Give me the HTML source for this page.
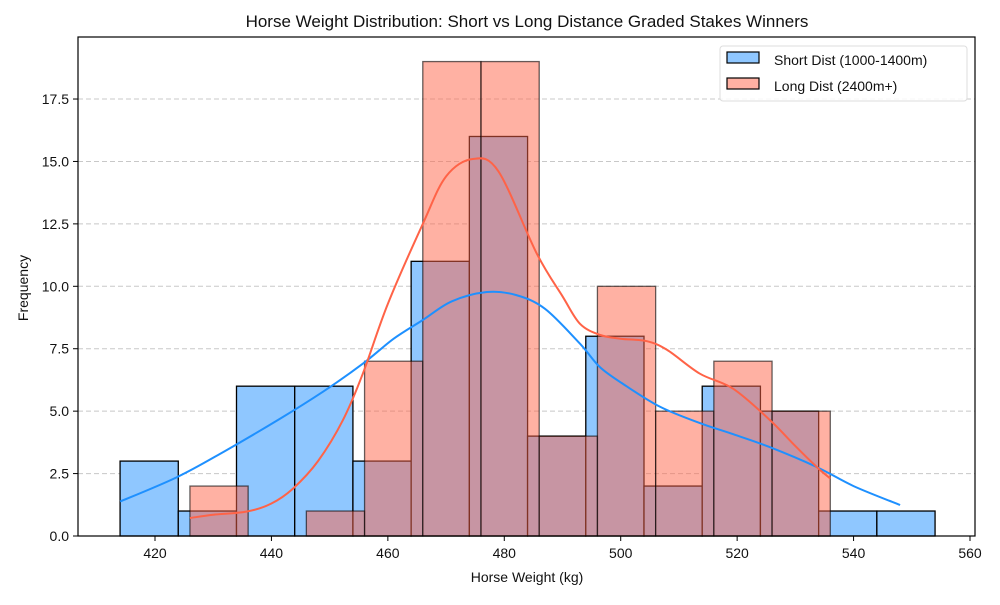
<!DOCTYPE html>
<html><head><meta charset="utf-8"><style>
html,body{margin:0;padding:0;background:#fff;}
svg text{font-family:"Liberation Sans",sans-serif;fill:#111;}
</style></head><body>
<svg id="s" width="1000" height="600" xmlns="http://www.w3.org/2000/svg"></svg>
<script>
const X=v=>155+(v-420)*5.8214, Y=v=>536-24.97*v;
let h='';
[2.5,5,7.5,10,12.5,15,17.5].forEach(v=>{h+=`<line x1="78" x2="975" y1="${Y(v)}" y2="${Y(v)}" stroke="#c8c8c8" stroke-dasharray="5,3" stroke-width="1"/>`;});
const blue=[3,1,6,6,3,11,16,4,8,2,6,5,1,1];
blue.forEach((c,i)=>{const a=414+i*10;h+=`<rect x="${X(a)}" y="${Y(c)}" width="${X(a+10)-X(a)}" height="${536-Y(c)}" fill="#8fc7ff" stroke="#000" stroke-width="1.3"/>`;});
const red=[2,0,1,7,19,19,4,10,5,7,5];
red.forEach((c,i)=>{if(!c)return;const a=426+i*10;h+=`<rect x="${X(a)}" y="${Y(c)}" width="${X(a+10)-X(a)}" height="${536-Y(c)}" fill="rgba(255,99,71,0.5)" stroke="rgba(0,0,0,0.6)" stroke-width="1.3"/>`;});
function curve(p,col){
  const P=p.map(q=>[X(q[0]),Y(q[1])]);
  let d='M'+P[0][0].toFixed(1)+','+P[0][1].toFixed(1);
  for(let i=0;i<P.length-1;i++){
    const p0=P[Math.max(0,i-1)],p1=P[i],p2=P[i+1],p3=P[Math.min(P.length-1,i+2)];
    const c1=[p1[0]+(p2[0]-p0[0])/6,p1[1]+(p2[1]-p0[1])/6];
    const c2=[p2[0]-(p3[0]-p1[0])/6,p2[1]-(p3[1]-p1[1])/6];
    d+=`C${c1[0].toFixed(1)},${c1[1].toFixed(1)} ${c2[0].toFixed(1)},${c2[1].toFixed(1)} ${p2[0].toFixed(1)},${p2[1].toFixed(1)}`;
  }
  return `<path d="${d}" fill="none" stroke="${col}" stroke-width="2"/>`;}
h+=curve([[414,1.38],[423.8,2.36],[432,3.4],[441.5,4.7],[449,5.8],[455.7,6.9],[461,7.9],[466,8.65],[471,9.4],[477,9.77],[482,9.65],[487,9.1],[493,7.7],[496.5,6.75],[501,6.0],[506.8,5.17],[513.6,4.52],[519,4.1],[525.6,3.56],[533.7,2.76],[540,2.0],[548,1.24]],'#1e90ff');
h+=curve([[426,0.72],[430,0.85],[435.8,0.98],[440,1.3],[443.7,1.9],[448,3.0],[452.3,4.65],[455.7,6.5],[460,9.3],[466,12.5],[470,14.4],[474.6,15.1],[479,14.6],[485.6,11.3],[490,9.6],[493,8.5],[496.5,8.05],[500,7.9],[504.5,7.8],[508,7.45],[513.6,6.5],[519.3,5.9],[525.6,4.65],[530,3.6],[533.7,2.76],[536,2.3]],'#ff6347');
h+=`<rect x="78" y="37" width="897" height="499" fill="none" stroke="#000" stroke-width="1.2"/>`;
for(let v=420;v<=560;v+=20){const x=X(v);h+=`<line x1="${x}" x2="${x}" y1="536" y2="541" stroke="#000"/><text x="${x}" y="558" font-size="14" text-anchor="middle">${v}</text>`;}
[0,2.5,5,7.5,10,12.5,15,17.5].forEach(v=>{const y=Y(v);h+=`<line x1="73" x2="78" y1="${y}" y2="${y}" stroke="#000"/><text x="69" y="${y+5}" font-size="14" text-anchor="end">${v.toFixed(1)}</text>`;});
h+=`<text x="527" y="582" font-size="14" text-anchor="middle">Horse Weight (kg)</text>`;
h+=`<text transform="translate(28,288) rotate(-90)" font-size="14" text-anchor="middle">Frequency</text>`;
h+=`<text x="527" y="27" font-size="17" text-anchor="middle">Horse Weight Distribution: Short vs Long Distance Graded Stakes Winners</text>`;
h+=`<rect x="720" y="46" width="247" height="55" rx="3" fill="#fff" fill-opacity="0.85" stroke="#ddd"/>`;
h+=`<rect x="727" y="52" width="32" height="11" fill="#8fc7ff" stroke="#000" stroke-width="1.2"/><text x="774" y="65" font-size="14">Short Dist (1000-1400m)</text>`;
h+=`<rect x="727" y="78" width="32" height="11" fill="#ffb1a3" stroke="#000" stroke-width="1.2"/><text x="774" y="91" font-size="14">Long Dist (2400m+)</text>`;
document.getElementById('s').innerHTML=h;
</script>
</body></html>
